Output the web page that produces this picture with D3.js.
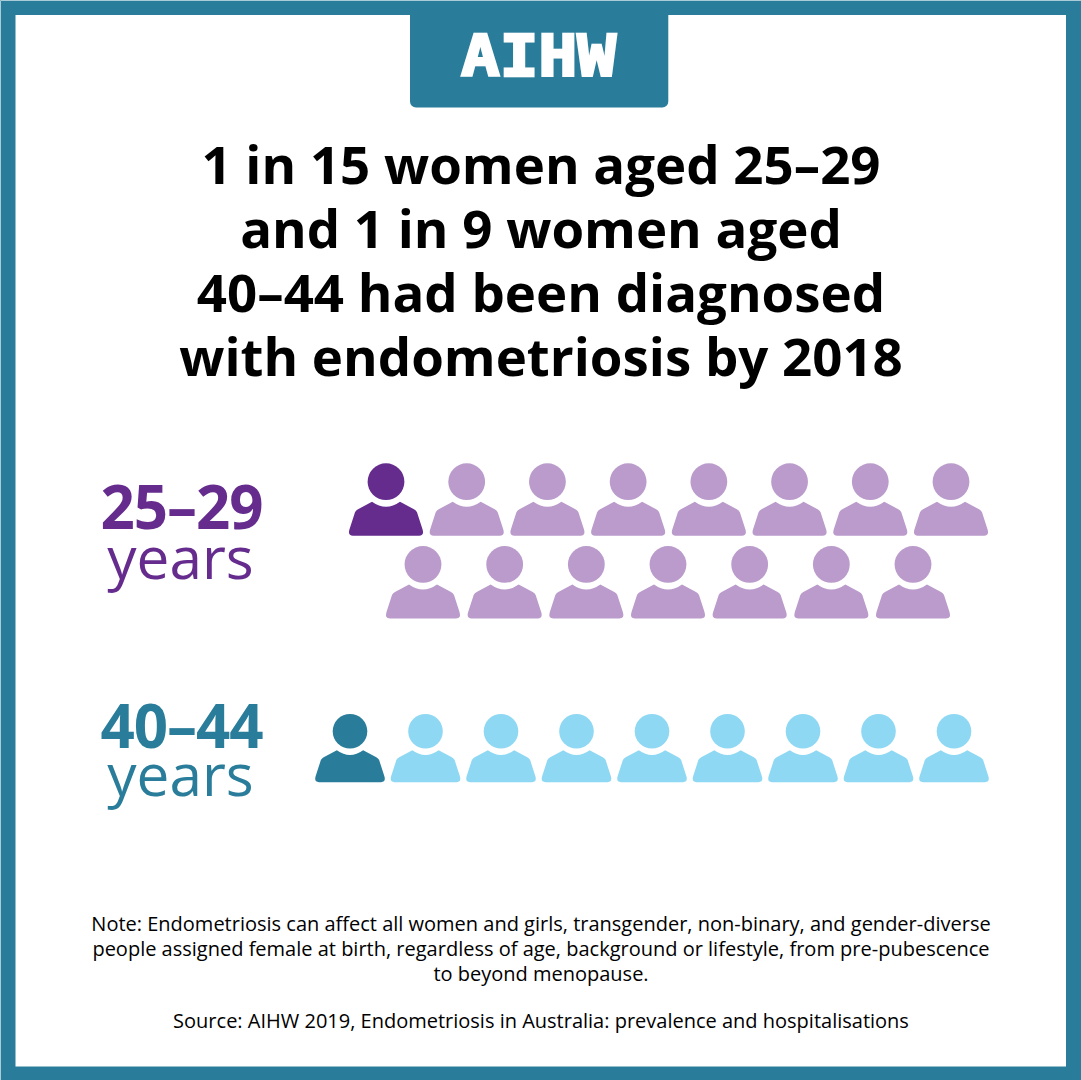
<!DOCTYPE html>
<html>
<head>
<meta charset="utf-8">
<script src="https://cdn.jsdelivr.net/npm/d3@7"></script>
<style>
html, body { margin: 0; padding: 0; background: #fff; }
svg { display: block; }
text { font-family: "Open Sans", sans-serif; }
</style>
</head>
<body>
<script>
var width = 1081, height = 1080;

var teal = "#2a7d9a", purple = "#652c8e", lightPurple = "#ba9bcb", lightBlue = "#8fd8f3";

var titleLines = [
  "1 in 15 women aged 25–29",
  "and 1 in 9 women aged",
  "40–44 had been diagnosed",
  "with endometriosis by 2018"
];
var noteLines = [
  "Note: Endometriosis can affect all women and girls, transgender, non-binary, and gender-diverse",
  "people assigned female at birth, regardless of age, background or lifestyle, from pre-pubescence",
  "to beyond menopause."
];
var sourceLine = "Source: AIHW 2019, Endometriosis in Australia: prevalence and hospitalisations";

var ageGroups = ["25–29", "40–44"];
var diagnosed = [1, 1];
var rowLengths = [[8, 7], [9]];

var svg = d3.select("body")
            .append("svg")
            .attr("width", width)
            .attr("height", height);

// frame
svg.append("rect")
   .attr("width", width)
   .attr("height", height)
   .attr("fill", teal);
svg.append("path")
   .attr("d", "M0.5,1081V0.5H1081")
   .attr("fill", "none")
   .attr("stroke", "#a9ccd8")
   .attr("stroke-width", 1);
svg.append("rect")
   .attr("x", 15.5)
   .attr("y", 15)
   .attr("width", 1050.5)
   .attr("height", 1051.5)
   .attr("fill", "#fff");

// logo tab
svg.append("path")
   .attr("fill", teal)
   .attr("d", "M410,10V101.5a6,6 0 0 0 6,6H662.3a6,6 0 0 0 6,-6V10Z");

svg.append("text")
   .attr("x", 461)
   .attr("y", 76)
   .attr("textLength", 155)
   .attr("lengthAdjust", "spacingAndGlyphs")
   .attr("fill", "#fff")
   .attr("stroke", "#fff")
   .attr("stroke-width", 2.5)
   .style("font-family", "'DejaVu Sans Mono'")
   .style("font-weight", 700)
   .style("font-size", "57px")
   .text("AIHW");

// title
svg.append("g").selectAll("text")
   .data(titleLines)
   .join("text")
   .attr("x", 541)
   .attr("y", function(d, i) { return 183.5 + i * 64; })
   .attr("text-anchor", "middle")
   .attr("fill", "#000")
   .style("font-weight", 700)
   .style("font-size", "52.8px")
   .text(function(d) { return d; });

// one person, centred on x = 0, with the head top at y = 0
var personPath = "M-14,38.5Q0,48.5 14,38.5L28,46Q30,47 31,49L36.5,66Q38.5,72.5 33,72.5H-33Q-38.5,72.5 -36.5,66L-31,49Q-30,47 -28,46Z";

// x scales for each row of people
var rows = [
  {group: 0, first: 0, count: rowLengths[0][0], x: d3.scaleLinear().domain([0, 7]).range([386, 951]), top: 463.3, size: 1},
  {group: 0, first: rowLengths[0][0], count: rowLengths[0][1], x: d3.scaleLinear().domain([0, 6]).range([423, 913]), top: 546, size: 1},
  {group: 1, first: 0, count: rowLengths[1][0], x: d3.scaleLinear().domain([0, 8]).range([350, 954]), top: 714, size: 0.94}
];
var dark = [purple, teal], light = [lightPurple, lightBlue];

rows.forEach(function(row) {
  var g = svg.append("g");
  var people = d3.range(row.count);
  var place = function(d) { return `translate(${row.x(d)}, ${row.top}) scale(${row.size})`; };
  var fill = function(d) { return row.first + d < diagnosed[row.group] ? dark[row.group] : light[row.group]; };
  var person = g.selectAll("g").data(people).join("g").attr("transform", place);
  person.append("circle").attr("cy", 18.4).attr("r", 18.4).attr("fill", fill);
  person.append("path").attr("d", personPath).attr("fill", fill);
});

// age labels
var labelY = [[529, 578.5], [747.5, 796]];
ageGroups.forEach(function(age, i) {
  svg.append("text")
     .attr("x", 181.5)
     .attr("y", labelY[i][0])
     .attr("text-anchor", "middle")
     .attr("fill", dark[i])
     .style("font-weight", 700)
     .style("font-size", "60px")
     .style("letter-spacing", "-1px")
     .text(age);
  svg.append("text")
     .attr("x", 180.5)
     .attr("y", labelY[i][1])
     .attr("text-anchor", "middle")
     .attr("fill", dark[i])
     .style("font-size", "58.5px")
     .text("years");
});

// notes
svg.append("g").selectAll("text")
   .data(noteLines)
   .join("text")
   .attr("x", 541)
   .attr("y", function(d, i) { return 931 + i * 25; })
   .attr("text-anchor", "middle")
   .attr("fill", "#000")
   .style("font-size", "20px")
   .text(function(d) { return d; });

svg.append("text")
   .attr("x", 541)
   .attr("y", 1028)
   .attr("text-anchor", "middle")
   .attr("fill", "#000")
   .style("font-size", "20px")
   .text(sourceLine);
</script>
</body>
</html>
